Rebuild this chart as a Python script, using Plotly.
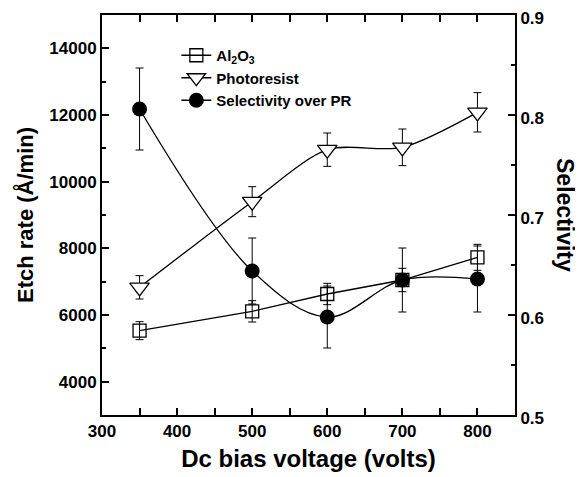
import plotly.graph_objects as go

# Dc bias voltage (volts)
bias = [350, 500, 600, 700, 800]

# Etch rates (A/min) and their error bars
al2o3 = [5530, 6110, 6630, 7050, 7730]
al2o3_err = [270, 320, 320, 350, 390]
photoresist = [6830, 9400, 10960, 11030, 12080]
photoresist_err = [350, 450, 500, 550, 590]

# Selectivity over PR (right axis)
selectivity = [0.806, 0.644, 0.598, 0.635, 0.636]
selectivity_err = [0.041, 0.033, 0.031, 0.032, 0.033]

FONT = "Liberation Sans, Arial, sans-serif"

fig = go.Figure()

fig.add_trace(go.Scatter(
    x=bias, y=al2o3, name="<b>Al<sub>2</sub>O<sub>3</sub></b>",
    mode="lines+markers",
    line=dict(color="black", width=1.3),
    marker=dict(symbol="square-open", size=13, color="black", line=dict(width=1.3)),
    error_y=dict(type="data", array=al2o3_err, color="black", thickness=1, width=4),
))
fig.add_trace(go.Scatter(
    x=bias, y=photoresist, name="<b>Photoresist</b>",
    mode="lines+markers",
    line=dict(color="black", width=1.3, shape="spline", smoothing=0.8),
    marker=dict(symbol="triangle-down", size=17, color="white",
                line=dict(color="black", width=1.3)),
    error_y=dict(type="data", array=photoresist_err, color="black", thickness=1, width=4),
))
fig.add_trace(go.Scatter(
    x=bias, y=selectivity, name="<b>Selectivity over PR</b>", yaxis="y2",
    mode="lines+markers",
    line=dict(color="black", width=1.3, shape="spline", smoothing=1.0),
    marker=dict(symbol="circle", size=15, color="black"),
    error_y=dict(type="data", array=selectivity_err, color="black", thickness=1, width=4),
))

axis_common = dict(
    showline=True, linecolor="black", linewidth=2,
    ticks="inside", ticklen=7, tickwidth=1.5, tickcolor="black",
    showgrid=False, zeroline=False, automargin=False,
    ticklabeloverflow="allow",
    tickfont=dict(family=FONT, size=17, color="black", weight=700),
)

# the page body adds 8px on the left and top, so the figure is 8px smaller
fig.update_layout(
    width=575, height=469,
    margin=dict(l=94, r=68, t=7, b=62),
    plot_bgcolor="white", paper_bgcolor="white",
    font=dict(family=FONT, color="black"),
    xaxis=dict(
        range=[300, 850], dtick=100, tick0=0, mirror="allticks",
        minor=dict(ticks="inside", ticklen=4, dtick=50, tickcolor="black", tickwidth=1.5),
        title=dict(text="<b>Dc bias voltage (volts)</b>", standoff=10,
                   font=dict(family=FONT, size=24, color="black")),
        **axis_common,
    ),
    yaxis=dict(
        range=[3000, 15000], dtick=2000, tick0=0, tickformat="d",
        minor=dict(ticks="inside", ticklen=4, dtick=1000, tickcolor="black", tickwidth=1.5),
        title=dict(text="<b>Etch rate (Å/min)</b>", standoff=10,
                   font=dict(family=FONT, size=22, color="black")),
        **axis_common,
    ),
    yaxis2=dict(
        overlaying="y", side="right", anchor="x",
        range=[0.5, 0.9], dtick=0.1, tick0=0, tickformat=".1f",
        ticklabelshift=3,
        minor=dict(ticks="inside", ticklen=4, dtick=0.05, tickcolor="black", tickwidth=1.5),
        **axis_common,
    ),
    legend=dict(
        x=0.18, y=0.94, xanchor="left", yanchor="top",
        bgcolor="rgba(0,0,0,0)", borderwidth=0,
        font=dict(family=FONT, size=15, color="black"),
        tracegroupgap=0, itemwidth=30,
    ),
    showlegend=True,
)

fig.add_annotation(
    text="<b>Selectivity</b>", xref="paper", yref="paper",
    x=1.121, y=0.5, xanchor="center", yanchor="middle",
    textangle=90, showarrow=False,
    font=dict(family=FONT, size=23, color="black"),
)

fig.write_html("out.html")
